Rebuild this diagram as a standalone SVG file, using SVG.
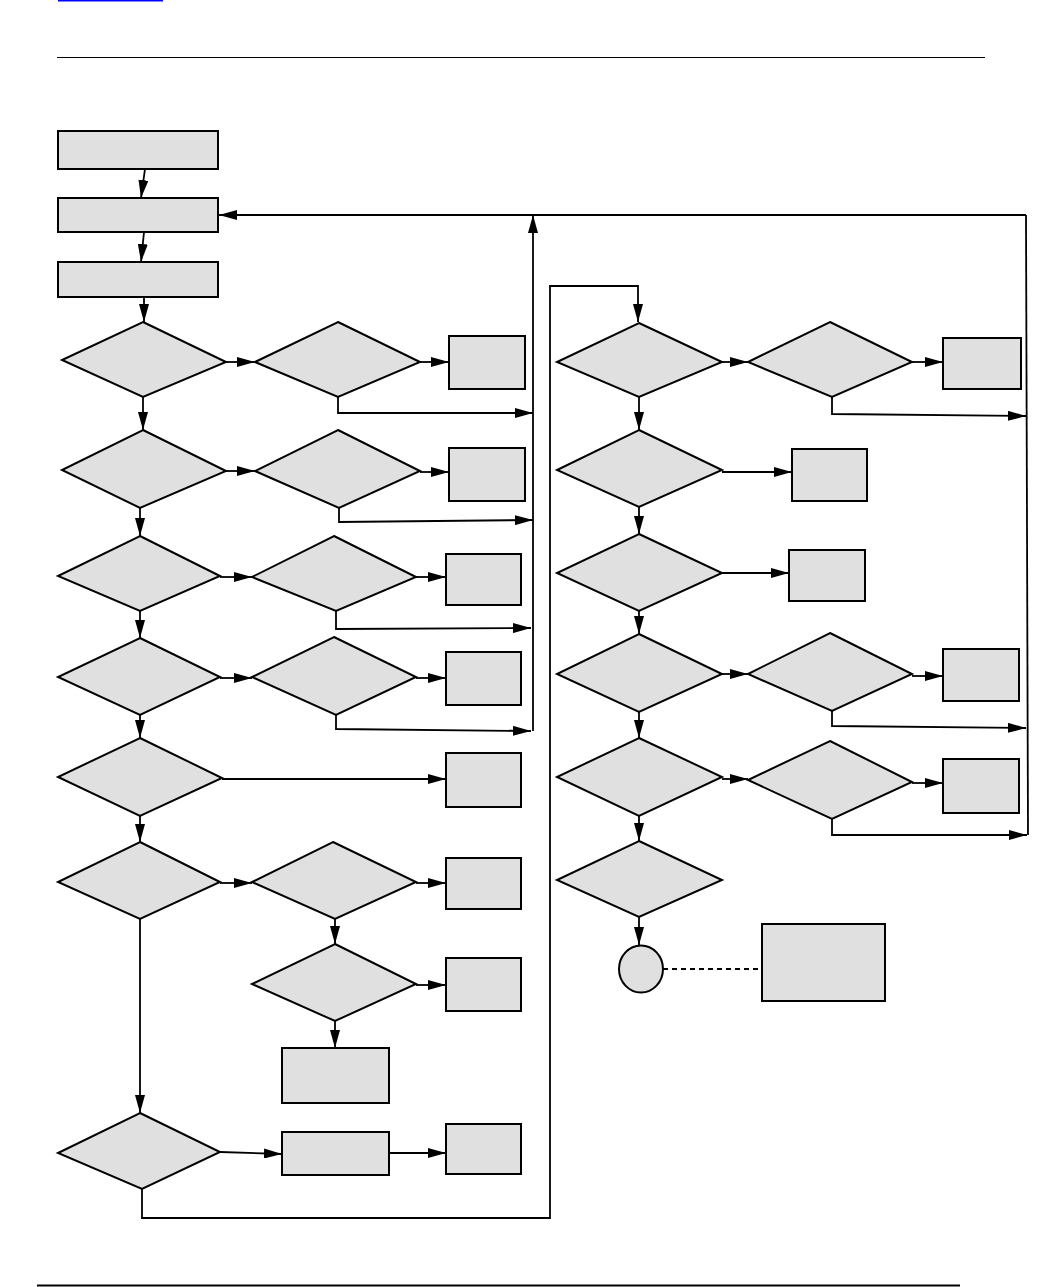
<svg xmlns="http://www.w3.org/2000/svg" width="1056" height="1287" viewBox="0 0 1056 1287">
<style>
.n{fill:#e0e0e0;stroke:#000;stroke-width:2}
.c{fill:none;stroke:#000;stroke-width:1.8}
.a{marker-end:url(#ah)}
.d{stroke-dasharray:5,4}
</style>
<defs>
<marker id="ah" markerUnits="userSpaceOnUse" markerWidth="18" markerHeight="10" refX="18" refY="5" orient="auto">
<path d="M0,0 L18,5 L0,10 z" fill="#000"/>
</marker>
</defs>
<rect x="0" y="0" width="1056" height="1287" fill="#fff"/>
<rect x="58" y="0" width="105" height="1.5" fill="#0000ff"/>
<line x1="57" y1="57.5" x2="985" y2="57.5" stroke="#000" stroke-width="1.2"/>
<line x1="37" y1="1285.5" x2="960" y2="1285.5" stroke="#000" stroke-width="2"/>
<g id="connectors">
<path class="c a" d="M145,169 L141,198"/>
<path class="c a" d="M144,232 L141,262"/>
<path class="c a" d="M144,297 L144,322"/>
<path class="c a" d="M226,362 L255,362"/>
<path class="c a" d="M420,362 L449,362"/>
<path class="c a" d="M338,397 L338,413 L533,413"/>
<path class="c a" d="M143,397 L143,430"/>
<path class="c a" d="M226,471 L255,471"/>
<path class="c a" d="M420,472 L449,472"/>
<path class="c a" d="M339,508 L339,522 L533,520"/>
<path class="c a" d="M140,508 L140,536"/>
<path class="c a" d="M220,577 L252,577"/>
<path class="c a" d="M416,577 L446,577"/>
<path class="c a" d="M336,611 L336,629 L531,628"/>
<path class="c a" d="M140,611 L140,638"/>
<path class="c a" d="M220,678 L252,678"/>
<path class="c a" d="M416,678 L446,678"/>
<path class="c a" d="M336,715 L336,729 L531,731"/>
<path class="c a" d="M533,731 L533,215"/>
<path class="c a" d="M1026,215 L219,215"/>
<path class="c a" d="M140,715 L140,738"/>
<path class="c a" d="M222,779 L446,779"/>
<path class="c a" d="M140,816 L140,842"/>
<path class="c a" d="M220,883 L252,883"/>
<path class="c a" d="M416,883 L446,883"/>
<path class="c a" d="M335,919 L335,944"/>
<path class="c a" d="M416,985 L446,985"/>
<path class="c a" d="M335,1021 L335,1048"/>
<path class="c a" d="M140,919 L140,1113"/>
<path class="c a" d="M220,1152 L282,1154"/>
<path class="c a" d="M389,1153 L446,1153"/>
<path class="c a" d="M142,1189 L142,1218 L550,1218 L550,286 L638,286 L638,322"/>
<path class="c a" d="M722,362 L748,362"/>
<path class="c a" d="M912,362 L943,362"/>
<path class="c a" d="M832,397 L832,414 L1026,416"/>
<path class="c a" d="M639,397 L639,430"/>
<path class="c a" d="M722,472 L792,472"/>
<path class="c a" d="M639,507 L639,534"/>
<path class="c a" d="M722,573 L789,573"/>
<path class="c a" d="M639,611 L639,634"/>
<path class="c a" d="M722,674 L748,674"/>
<path class="c a" d="M912,676 L943,676"/>
<path class="c a" d="M832,711 L832,726 L1026,728"/>
<path class="c a" d="M639,712 L639,738"/>
<path class="c a" d="M722,779 L748,779"/>
<path class="c a" d="M912,783 L943,783"/>
<path class="c a" d="M832,819 L832,835 L1027,835"/>
<path class="c" d="M1028,835 L1026,215"/>
<path class="c a" d="M639,816 L639,841"/>
<path class="c a" d="M639,917 L639,945"/>
<path class="c d" d="M663,969 L762,969"/>
</g>
<g id="box1"><rect class="n" x="58" y="131" width="160" height="38"/></g>
<g id="box2"><rect class="n" x="58" y="198" width="160" height="34"/></g>
<g id="box3"><rect class="n" x="58" y="262" width="160" height="35"/></g>
<g id="d1"><polygon class="n" points="143,322 226,362 143,397 62,360"/></g>
<g id="d1b"><polygon class="n" points="338,322 420,362 338,397 255,362"/></g>
<g id="r1"><rect class="n" x="449" y="336" width="76" height="53"/></g>
<g id="d2"><polygon class="n" points="143,430 226,471 140,508 62,470"/></g>
<g id="d2b"><polygon class="n" points="338,430 420,471 339,508 255,471"/></g>
<g id="r2"><rect class="n" x="449" y="448" width="76" height="53"/></g>
<g id="d3"><polygon class="n" points="140,536 220,576 140,611 58,576"/></g>
<g id="d3b"><polygon class="n" points="334,536 416,577 336,611 252,577"/></g>
<g id="r3"><rect class="n" x="446" y="554" width="75" height="51"/></g>
<g id="d4"><polygon class="n" points="140,638 220,677 140,715 58,677"/></g>
<g id="d4b"><polygon class="n" points="334,637 416,677 336,715 252,677"/></g>
<g id="r4"><rect class="n" x="446" y="652" width="75" height="53"/></g>
<g id="d5"><polygon class="n" points="140,738 222,778 140,816 58,777"/></g>
<g id="r5"><rect class="n" x="446" y="753" width="75" height="54"/></g>
<g id="d6"><polygon class="n" points="140,842 220,882 140,919 58,882"/></g>
<g id="d6b"><polygon class="n" points="333,842 416,882 335,919 252,882"/></g>
<g id="r6"><rect class="n" x="446" y="858" width="75" height="51"/></g>
<g id="d7"><polygon class="n" points="335,944 416,984 335,1021 252,984"/></g>
<g id="r7"><rect class="n" x="446" y="958" width="75" height="53"/></g>
<g id="r8"><rect class="n" x="282" y="1048" width="107" height="55"/></g>
<g id="d8"><polygon class="n" points="140,1113 220,1152 142,1189 58,1153"/></g>
<g id="r9"><rect class="n" x="282" y="1132" width="107" height="43"/></g>
<g id="r10"><rect class="n" x="446" y="1124" width="75" height="50"/></g>
<g id="d9"><polygon class="n" points="639,323 722,362 639,397 557,362"/></g>
<g id="d9b"><polygon class="n" points="830,322 912,362 832,397 748,362"/></g>
<g id="r11"><rect class="n" x="943" y="338" width="78" height="51"/></g>
<g id="d10"><polygon class="n" points="639,430 722,470 639,507 557,470"/></g>
<g id="r12"><rect class="n" x="792" y="449" width="75" height="52"/></g>
<g id="d11"><polygon class="n" points="639,534 722,573 639,611 557,573"/></g>
<g id="r13"><rect class="n" x="789" y="550" width="76" height="51"/></g>
<g id="d12"><polygon class="n" points="639,634 722,674 639,712 557,674"/></g>
<g id="d12b"><polygon class="n" points="830,633 912,674 832,711 748,674"/></g>
<g id="r14"><rect class="n" x="943" y="649" width="76" height="52"/></g>
<g id="d13"><polygon class="n" points="639,738 722,777 639,816 557,777"/></g>
<g id="d13b"><polygon class="n" points="830,741 912,782 832,819 748,780"/></g>
<g id="r15"><rect class="n" x="943" y="759" width="76" height="54"/></g>
<g id="d14"><polygon class="n" points="639,841 722,880 639,917 557,880"/></g>
<g id="end"><ellipse class="n" cx="641" cy="969" rx="22" ry="23.5"/></g>
<g id="r16"><rect class="n" x="762" y="924" width="123" height="77"/></g>
</svg>
